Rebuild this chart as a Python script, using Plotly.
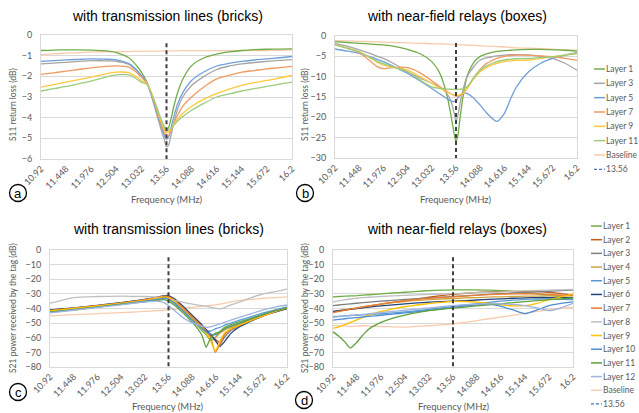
import plotly.graph_objects as go

W, H = 639, 413

# ---------------- data ----------------
tick_vals = [10.92, 11.448, 11.976, 12.504, 13.032, 13.56, 14.088, 14.616, 15.144, 15.672, 16.2]
tick_text = ["10.92", "11.448", "11.976", "12.504", "13.032", "13.56", "14.088", "14.616", "15.144", "15.672", "16.2"]
marker_freq = 13.56

# panel a: S11 with transmission lines (bricks)
fa = [10.92, 11.184, 11.448, 11.712, 11.976, 12.24, 12.504, 12.768, 12.9, 13.032, 13.15, 13.25, 13.35, 13.45, 13.52,
      13.56, 13.6, 13.65, 13.72, 13.8, 13.9, 14.088, 14.352, 14.616, 14.88, 15.144, 15.408, 15.672, 15.936, 16.2]
a_layer1 = [-0.75, -0.73, -0.72, -0.72, -0.73, -0.76, -0.85, -1.1, -1.4, -1.8, -2.3, -2.9, -3.6, -4.2, -4.5,
            -4.6, -4.5, -4.1, -3.4, -2.75, -2.15, -1.48, -1.1, -0.92, -0.82, -0.75, -0.71, -0.69, -0.68, -0.67]
a_layer3 = [-1.4, -1.36, -1.32, -1.28, -1.24, -1.25, -1.27, -1.42, -1.65, -1.99, -2.35, -3.0, -3.8, -4.6, -5.1,
            -5.4, -5.35, -4.9, -4.2, -3.55, -3.0, -2.44, -2.0, -1.67, -1.5, -1.4, -1.33, -1.28, -1.23, -1.19]
a_layer5 = [-1.28, -1.24, -1.2, -1.18, -1.16, -1.17, -1.2, -1.38, -1.62, -1.96, -2.33, -2.95, -3.7, -4.4, -4.9,
            -5.05, -4.95, -4.55, -3.9, -3.3, -2.8, -2.2, -1.78, -1.5, -1.37, -1.28, -1.21, -1.16, -1.1, -1.04]
a_layer7 = [-1.91, -1.83, -1.75, -1.67, -1.59, -1.53, -1.49, -1.55, -1.75, -2.04, -2.33, -2.9, -3.6, -4.3, -4.75,
            -4.93, -4.9, -4.65, -4.25, -3.85, -3.45, -3.0, -2.5, -2.12, -1.95, -1.8, -1.72, -1.64, -1.58, -1.52]
a_layer9 = [-2.52, -2.4, -2.28, -2.16, -2.04, -1.9, -1.8, -1.82, -1.98, -2.2, -2.35, -2.85, -3.5, -4.2, -4.6,
            -4.72, -4.7, -4.55, -4.3, -4.05, -3.8, -3.45, -3.1, -2.84, -2.62, -2.44, -2.3, -2.2, -2.08, -1.96]
a_layer11 = [-2.71, -2.6, -2.49, -2.36, -2.23, -2.06, -1.93, -1.93, -2.08, -2.28, -2.4, -2.85, -3.45, -4.1, -4.45,
             -4.58, -4.6, -4.52, -4.35, -4.15, -3.95, -3.64, -3.3, -3.0, -2.85, -2.71, -2.6, -2.49, -2.38, -2.28]
a_base = [-0.95, -0.91, -0.88, -0.85, -0.83, -0.81, -0.8, -0.8, -0.79, -0.79, -0.78, -0.78, -0.78, -0.78, -0.77,
          -0.77, -0.77, -0.77, -0.77, -0.77, -0.76, -0.76, -0.76, -0.76, -0.76, -0.76, -0.75, -0.75, -0.74, -0.72]
a_marker = [-0.4, -6]

# panel b: S11 with near-field relays (boxes)
fb = [10.92, 11.184, 11.448, 11.712, 11.85, 11.976, 12.24, 12.504, 12.768, 13.032, 13.2, 13.35, 13.45, 13.52, 13.56,
      13.6, 13.65, 13.72, 13.8, 13.95, 14.088, 14.22, 14.352, 14.45, 14.616, 14.75, 14.88, 15.144, 15.408, 15.672,
      15.936, 16.2]
b_layer1 = [-1.4, -1.6, -1.8, -2.0, -2.1, -2.2, -2.6, -3.3, -4.3, -6.3, -9.0, -14, -19.5, -24, -26,
            -24.5, -20, -14.5, -10, -6.5, -5.0, -4.4, -4.0, -3.8, -3.6, -3.5, -3.4, -3.3, -3.3, -3.4, -3.5, -3.7]
b_layer3 = [-1.8, -2.5, -3.4, -4.4, -5.0, -5.5, -7.0, -8.8, -10.3, -11.6, -12.5, -14, -16, -19, -21,
            -19.5, -16.5, -12.9, -10, -7.5, -5.9, -5.4, -5.1, -4.9, -4.7, -4.6, -4.6, -4.7, -5.0, -5.5, -6.7, -8.4]
b_layer5 = [-3.2, -3.7, -4.3, -5.2, -5.8, -6.3, -7.7, -9.2, -11, -12.9, -14.2, -15.3, -16, -16.1, -15.9,
            -15.3, -14.6, -14, -14.1, -15.3, -17, -18.8, -20.3, -21, -19, -15.5, -12.5, -8.8, -6.7, -5.5, -4.7, -4.1]
b_layer7 = [-2.2, -3.0, -4.1, -6.4, -7.6, -8.0, -7.7, -7.8, -9.0, -11, -12.4, -13.5, -14.2, -14.6, -14.8,
            -14.8, -14.6, -14.1, -12.9, -10.2, -8.2, -6.8, -6.0, -5.5, -5.0, -4.8, -4.7, -4.7, -4.9, -5.1, -5.5, -6.0]
b_layer9 = [-2.2, -3.0, -3.9, -5.5, -6.5, -7.1, -7.8, -8.4, -10, -11.6, -12.8, -13.7, -14.2, -14.5, -14.6,
            -14.6, -14.4, -14, -12.9, -10.5, -8.8, -7.8, -7.1, -6.7, -6.3, -6.1, -6.0, -5.9, -5.5, -5.1, -4.7, -4.3]
b_layer11 = [-2.2, -3.0, -3.9, -5.5, -6.3, -6.8, -7.8, -8.8, -10.8, -12.5, -12.9, -13.0, -13.1, -13.1, -13.1,
             -13.1, -13.1, -13.0, -12.5, -10.3, -8.4, -7.4, -6.7, -6.3, -5.9, -5.7, -5.6, -5.5, -5.3, -5.1, -4.7, -4.3]
b_base = [-1.15, -1.2, -1.3, -1.4, -1.45, -1.5, -1.6, -1.7, -1.8, -1.9, -1.95, -2.0, -2.05, -2.1, -2.1,
          -2.1, -2.15, -2.2, -2.25, -2.3, -2.4, -2.5, -2.55, -2.6, -2.7, -2.8, -2.9, -3.0, -3.1, -3.25, -3.4, -3.5]
b_marker = [-1.7, -30]

# panel c: S21 with transmission lines (bricks)
fc = [10.92, 11.448, 11.976, 12.504, 13.032, 13.3, 13.45, 13.56, 13.7, 13.85, 14.0, 14.15, 14.3, 14.4, 14.5, 14.6,
      14.7, 14.8, 14.95, 15.144, 15.408, 15.672, 15.936, 16.2]
c_layer1 = [-42, -40.5, -38.8, -37, -35, -33.5, -32.8, -33.5, -36.5, -40.5, -45, -50, -55, -58, -62, -60,
            -56, -53, -51, -49, -46.5, -44, -42, -40]
c_layer2 = [-41.5, -40, -38.3, -36.4, -34.2, -32.6, -31.8, -32, -34.5, -38.5, -43, -47.5, -52, -55, -58, -61,
            -63, -58, -54, -51.5, -48, -45, -42, -39.5]
c_layer3 = [-41, -39.8, -38, -36.2, -34, -32.5, -31.6, -31.8, -34.2, -38.3, -42.8, -47.3, -52, -55, -58, -62,
            -65, -60, -55, -52, -48, -45, -42, -39.5]
c_layer4 = [-41.8, -40.2, -38.5, -36.6, -34.5, -33, -32.2, -32.6, -35.2, -39.5, -44, -48.5, -53, -56, -59, -60,
            -57, -55, -53, -51, -47.5, -44.5, -42, -40]
c_layer5 = [-42, -40.5, -38.6, -36.8, -34.8, -33.4, -32.6, -33.2, -36.3, -40.5, -45, -49.5, -53, -55, -55.5, -54,
            -53, -51.5, -50, -48, -45.5, -43, -41, -39]
c_layer6 = [-41, -39.6, -37.8, -36, -33.8, -32.2, -31.3, -31.2, -33.5, -37.5, -42, -46.5, -51, -54.5, -58, -61.5,
            -66, -63, -57, -52.5, -48.5, -45, -42.5, -40]
c_layer7 = [-41.3, -39.8, -38.1, -36.2, -34, -32.5, -31.6, -31.8, -34.3, -38.5, -43, -47.5, -52, -55.5, -60, -70,
            -65, -58, -54, -51.5, -48, -45, -42, -39.5]
c_layer8 = [-36.4, -32.5, -31.8, -31.6, -31.8, -32.2, -32.5, -33, -34.5, -35.5, -36.5, -37.3, -38, -38.5, -39, -39.8,
            -40.3, -39.5, -37.5, -35.5, -32.5, -30, -28.5, -26.7]
c_layer9 = [-41.6, -40, -38.3, -36.5, -34.4, -33, -32.3, -32.8, -35.5, -40, -44.5, -49, -53.5, -57, -62, -69,
            -63, -57, -54, -51.5, -48, -45, -42, -39.5]
c_layer10 = [-42.5, -40.8, -39, -37, -35, -33.8, -33, -33.5, -36.5, -40.5, -45, -49.5, -53.5, -56, -57.5, -58,
             -56, -54, -52, -50, -47, -44, -41.5, -39]
c_layer11 = [-42.5, -41, -39, -37.2, -35.5, -34.5, -34, -35, -38, -42, -46.5, -51.5, -58, -66.5, -60, -57,
             -56, -54, -52, -50, -47, -44, -41.5, -39.5]
c_layer12 = [-43, -41.2, -39.2, -37.5, -35.5, -35, -36, -38, -41.5, -45.5, -48.5, -50.5, -52, -52.8, -52.5, -51.5,
             -50.5, -49.5, -48, -46, -43.5, -41, -39, -37.6]
c_base = [-45, -44.2, -43.5, -42.8, -42, -41.5, -41.2, -41, -40.5, -40, -39.5, -39, -38.5, -38.2, -37.8, -37.5,
          -37, -36.5, -35.5, -34.5, -33.8, -33, -32.5, -32]
c_marker = [-5, -80]

# panel d: S21 with near-field relays (boxes)
fd = [10.92, 11.05, 11.184, 11.3, 11.448, 11.58, 11.712, 11.976, 12.24, 12.504, 12.768, 13.032, 13.3, 13.56,
      13.824, 14.088, 14.352, 14.616, 14.88, 15.144, 15.408, 15.672, 15.936, 16.2]
d_layer1 = [-32, -31.8, -31.6, -31.4, -31.2, -30.9, -30.6, -30, -29.4, -28.9, -28.3, -27.8, -27.5, -27.3,
            -27.2, -27.3, -27.5, -27.8, -28.3, -29, -30, -31, -32, -32.5]
d_layer2 = [-42.5, -41.8, -41, -40.5, -39.8, -39, -38.4, -37, -35.8, -34.6, -33.4, -32.3, -31.2, -30.3,
            -29.6, -29, -28.6, -28.4, -28.3, -28.3, -28.5, -29, -29.8, -31]
d_layer3 = [-38, -37.6, -37.2, -36.8, -36.4, -36, -35.7, -35, -34.4, -33.8, -33.3, -32.8, -32.3, -31.8,
            -31.3, -30.8, -30.3, -29.8, -29.4, -29, -28.6, -28.2, -27.8, -27.5]
d_layer4 = [-42, -41.4, -40.8, -40.2, -39.5, -38.8, -38.2, -37, -36, -35.2, -34.5, -34, -33.5, -33.2,
            -32.8, -32.5, -32.2, -32, -31.8, -31.6, -31.5, -31.3, -31.2, -31]
d_layer5 = [-45.5, -45.3, -45, -44.8, -44.6, -44.4, -44.2, -43.6, -43, -42.3, -41.5, -40.6, -39.6, -38.6,
            -37.6, -36.7, -35.8, -35, -34.3, -33.8, -33.5, -33.5, -33.8, -34]
d_layer6 = [-42, -41.5, -41, -40.5, -40, -39.5, -39, -38.2, -37.5, -36.8, -36.2, -35.7, -35.3, -35,
            -34.6, -34.2, -33.8, -33.4, -33, -32.7, -32.5, -32.5, -32.6, -32.8]
d_layer7 = [-42.8, -42, -41.2, -40.5, -39.7, -39, -38.3, -37, -35.8, -34.7, -33.8, -33.1, -32.5, -32,
            -31.5, -31, -30.5, -30.2, -30, -29.9, -30, -30.3, -30.8, -31.3]
d_layer8 = [-35.5, -34.8, -34, -33.5, -33, -32.6, -32.3, -31.8, -31.3, -31, -30.7, -30.4, -30.1, -29.8,
            -29.5, -29.2, -28.9, -28.6, -28.3, -28, -27.7, -27.4, -27.2, -27]
d_layer9 = [-53.5, -52.5, -51, -49.5, -47.8, -46, -44.5, -42, -40.2, -38.8, -37.6, -36.6, -35.8, -35.2,
            -35.2, -35.6, -36.5, -37.5, -38.2, -38, -36.5, -34, -32, -30]
d_layer10 = [-48, -47.5, -47, -46.6, -46.2, -45.8, -45.4, -44.6, -43.8, -43, -42.2, -41.2, -40.2, -39.2,
             -38.3, -37.5, -37, -38.5, -41, -43.5, -41, -38, -36.5, -35.5]
d_layer11 = [-56, -59, -63, -67, -63, -58, -54, -49.5, -46.5, -44.5, -42.8, -41.5, -40.5, -39.8,
             -39, -38.2, -37.5, -36.8, -36, -35.3, -34.6, -34, -33.5, -33]
d_layer12 = [-46, -45.6, -45.2, -44.8, -44.4, -44, -43.6, -42.8, -42, -41.2, -40.4, -39.6, -38.8, -38,
             -37.4, -37, -36.8, -36.8, -37.2, -38, -39.5, -41.5, -39.5, -36.5]
d_base = [-51.5, -51.8, -52, -52.2, -52, -51.8, -52, -52.3, -52.5, -52.7, -52.2, -51.8, -51.2, -50.6,
          -49.5, -48.3, -47, -45.8, -44.6, -43.3, -42, -41, -40, -39]
d_marker = [-5, -80]

# ---------------- styles ----------------
top_names = ["Layer 1", "Layer 3", "Layer 5", "Layer 7", "Layer 9", "Layer 11", "Baseline"]
top_colors = ["#70AD47", "#A5A5A5", "#6F9FD8", "#F09A63", "#FFC83D", "#9CCB7C", "#F8CBAD"]
bot_names = ["Layer 1", "Layer 2", "Layer 3", "Layer 4", "Layer 5", "Layer 6", "Layer 7", "Layer 8",
             "Layer 9", "Layer 10", "Layer 11", "Layer 12", "Baseline"]
bot_colors = ["#70AD47", "#C55A11", "#7F7F7F", "#CFA443", "#5B9BD5", "#264478", "#ED7D31", "#BFBFBF",
              "#FFC000", "#4F8ED3", "#5FA040", "#9DB4E0", "#F8CBAD"]
marker_color = "#404040"
legend_dash_color = "#4472C4"

a_series = [a_layer1, a_layer3, a_layer5, a_layer7, a_layer9, a_layer11, a_base]
b_series = [b_layer1, b_layer3, b_layer5, b_layer7, b_layer9, b_layer11, b_base]
c_series = [c_layer1, c_layer2, c_layer3, c_layer4, c_layer5, c_layer6, c_layer7, c_layer8, c_layer9,
            c_layer10, c_layer11, c_layer12, c_base]
d_series = [d_layer1, d_layer2, d_layer3, d_layer4, d_layer5, d_layer6, d_layer7, d_layer8, d_layer9,
            d_layer10, d_layer11, d_layer12, d_base]

SMALL = "Lato, 'Open Sans', sans-serif"
TITLE = "'Liberation Sans', Arial, sans-serif"
GRAY = "#595959"


def X(p):
    return p / W


def Y(p):
    return 1 - p / H


fig = go.Figure()


def add_panel(xs, series, colors, names, marker_y, ax, smooth):
    xa = "x" if ax == 1 else "x%d" % ax
    ya = "y" if ax == 1 else "y%d" % ax
    order = list(range(len(series)))
    order = [order[-1]] + order[:-1]
    for i in order:
        fig.add_trace(go.Scatter(
            x=xs, y=series[i], mode="lines", name=names[i], xaxis=xa, yaxis=ya,
            line=dict(color=colors[i], width=1.3, shape="spline", smoothing=smooth),
            showlegend=False, hoverinfo="skip"))
    fig.add_trace(go.Scatter(
        x=[marker_freq, marker_freq], y=marker_y, mode="lines", name="13.56", xaxis=xa, yaxis=ya,
        line=dict(color=marker_color, width=2, dash="4px,3px"), showlegend=False, hoverinfo="skip"))


add_panel(fa, a_series, top_colors, top_names, a_marker, 1, 0.8)
add_panel(fb, b_series, top_colors, top_names, b_marker, 2, 0.8)
add_panel(fc, c_series, bot_colors, bot_names, c_marker, 3, 0.5)
add_panel(fd, d_series, bot_colors, bot_names, d_marker, 4, 0.5)

# panel geometry in pixels: (left, right, top, bottom)
panels = {
    1: (41, 292, 35, 159, [-6, 0], 1),
    2: (335, 577, 36, 158, [-30, 0], 5),
    3: (50, 287, 250, 367, [-80, 0], 10),
    4: (333, 573, 250, 367, [-80, 0], 10),
}

layout = dict(
    width=W, height=H, margin=dict(l=0, r=0, t=0, b=0),
    paper_bgcolor="white", plot_bgcolor="white", showlegend=False,
)
for k, (l, r, t, b, yr, dt) in panels.items():
    xs = "xaxis" if k == 1 else "xaxis%d" % k
    ys = "yaxis" if k == 1 else "yaxis%d" % k
    yid = "y" if k == 1 else "y%d" % k
    xid = "x" if k == 1 else "x%d" % k
    layout[xs] = dict(
        domain=[X(l), X(r)], anchor=yid, range=[10.92, 16.2], tickmode="array",
        tickvals=tick_vals, ticktext=tick_text, tickangle=-45, showgrid=False, zeroline=False,
        showline=True, mirror=True, linecolor="#D9D9D9", linewidth=1, ticks="",
        tickfont=dict(family=SMALL, size=9, color=GRAY), automargin=False)
    layout[ys] = dict(
        domain=[Y(b), Y(t)], anchor=xid, range=yr, dtick=dt, tick0=0, showgrid=True, gridcolor="#D9D9D9",
        gridwidth=1, zeroline=False, showline=True, mirror=True, linecolor="#D9D9D9", linewidth=1, ticks="",
        ticklabelstandoff=6, tickfont=dict(family=SMALL, size=9, color=GRAY), automargin=False)

fig.update_layout(**layout)

ann = []
shapes = []

# titles
for txt, x, y in [("with transmission lines (bricks)", 167, 16), ("with near-field relays (boxes)", 457, 16),
                  ("with transmission lines (bricks)", 168, 229), ("with near-field relays (boxes)", 457, 229)]:
    ann.append(dict(text=txt, x=X(x), y=Y(y), xref="paper", yref="paper", showarrow=False,
                    font=dict(family=TITLE, size=14, color="#000000"), xanchor="center", yanchor="middle"))

# axis titles
for x, y in [(167, 200), (456, 200), (168, 406), (454, 406)]:
    ann.append(dict(text="Frequency (MHz)", x=X(x), y=Y(y), xref="paper", yref="paper", showarrow=False,
                    font=dict(family=SMALL, size=9.5, color=GRAY), xanchor="center", yanchor="middle"))
for txt, x, y in [("S11 return loss (dB)", 13, 105), ("S11 return loss (dB)", 305, 105),
                  ("S21 power received by the tag (dB)", 13, 308), ("S21 power received by the tag (dB)", 305, 308)]:
    ann.append(dict(text=txt, x=X(x), y=Y(y), xref="paper", yref="paper", showarrow=False, textangle=-90,
                    font=dict(family=SMALL, size=8.5, color=GRAY), xanchor="center", yanchor="middle"))

# circled panel letters
for letter, cx, cy in [("a", 18, 193), ("b", 305, 193), ("c", 18, 392), ("d", 304, 400)]:
    shapes.append(dict(type="circle", xref="paper", yref="paper", x0=X(cx - 8.5), x1=X(cx + 8.5),
                       y0=Y(cy + 8.5), y1=Y(cy - 8.5), line=dict(color="#000000", width=1.3)))
    ann.append(dict(text=letter, x=X(cx), y=Y(cy), xref="paper", yref="paper", showarrow=False,
                    font=dict(family=TITLE, size=13, color="#000000"), xanchor="center", yanchor="middle"))


# legends (drawn as keys beside the right panels)
def legend(names, colors, x0, x1, xt, y0, step):
    for i, (n, c) in enumerate(zip(names, colors)):
        yy = y0 + i * step
        shapes.append(dict(type="line", xref="paper", yref="paper", x0=X(x0), x1=X(x1), y0=Y(yy), y1=Y(yy),
                           line=dict(color=c, width=1.5)))
        ann.append(dict(text=n, x=X(xt), y=Y(yy), xref="paper", yref="paper", showarrow=False,
                        font=dict(family=SMALL, size=8.5, color=GRAY), xanchor="left", yanchor="middle"))
    yy = y0 + len(names) * step
    shapes.append(dict(type="line", xref="paper", yref="paper", x0=X(x0), x1=X(x1), y0=Y(yy), y1=Y(yy),
                       line=dict(color=legend_dash_color, width=1.3, dash="3px,2px")))
    ann.append(dict(text="13.56", x=X(xt), y=Y(yy), xref="paper", yref="paper", showarrow=False,
                    font=dict(family=SMALL, size=8.5, color=GRAY), xanchor="left", yanchor="middle"))


legend(top_names, top_colors, 594, 605, 604, 69, 14.33)
legend(bot_names, bot_colors, 591, 602, 601, 226, 13.69)

fig.update_layout(annotations=ann, shapes=shapes)
fig.write_html("out.html", config={"displayModeBar": False},
               post_script="document.body.style.margin='0px';document.body.style.overflow='hidden';")
